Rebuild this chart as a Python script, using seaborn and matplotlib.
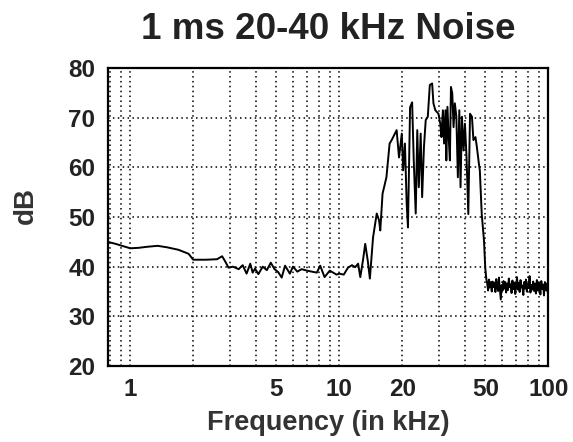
import numpy as np
import pandas as pd
import matplotlib
matplotlib.use("Agg")
import matplotlib.pyplot as plt
import seaborn as sns
from matplotlib.ticker import FixedLocator, NullFormatter

# ---- data ----
freq_low = [0.78, 0.85, 0.95, 1.0, 1.1, 1.2, 1.35, 1.5, 1.7, 1.9, 2.0, 2.3, 2.6, 2.75,
            2.85, 2.95, 3.1, 3.3, 3.45, 3.6, 3.75, 3.85, 3.95, 4.1, 4.3, 4.5, 4.7, 4.9,
            5.1, 5.3, 5.5, 5.8, 6.0, 6.3, 6.6, 7.0, 7.4, 7.8, 8.1, 8.5, 9.0, 9.7]
db_low = [45.0, 44.6, 44.0, 43.7, 43.8, 44.0, 44.2, 43.9, 43.4, 42.6, 41.4, 41.4, 41.5, 42.1,
          41.0, 39.8, 40.0, 39.5, 40.3, 38.6, 40.6, 38.8, 39.6, 38.5, 40.0, 39.3, 40.8, 39.5,
          38.9, 37.8, 40.2, 38.6, 40.0, 39.0, 39.5, 39.2, 39.0, 38.8, 40.2, 37.9, 39.2, 38.4]

freq_mid = [10.0, 10.5, 11.0, 11.5, 11.9, 12.3, 12.6, 13.0, 13.3, 13.7, 14.0, 14.5,
            15.1, 15.5, 15.7, 16.1, 16.8, 17.4, 17.8, 18.8, 19.3, 19.9, 20.2, 20.6,
            21.0, 21.3, 21.8, 22.3, 22.7, 23.2, 23.6, 24.0, 24.5, 24.9, 25.4, 25.9,
            26.5, 27.1, 27.8, 28.2, 28.8, 29.8, 30.4, 30.8, 31.3, 31.7, 32.2, 32.5,
            32.9, 33.4, 33.8, 34.2, 34.7, 35.2, 35.7, 36.3, 36.9, 37.5, 38.0, 38.6,
            39.3, 39.9, 40.6, 41.4, 42.2, 43.1, 43.8, 44.8, 45.5, 46.5, 47.0, 48.0,
            49.2, 49.9, 50.5]
db_mid = [38.6, 38.4, 39.8, 40.3, 39.9, 40.6, 37.9, 41.5, 44.6, 41.0, 37.6, 45.9,
          50.7, 49.3, 47.3, 54.7, 58.0, 64.8, 65.5, 67.5, 62.0, 66.8, 59.4, 64.8,
          52.7, 47.9, 72.1, 73.1, 61.4, 50.7, 67.5, 56.0, 66.8, 54.0, 64.1, 69.5,
          70.2, 76.6, 76.9, 72.9, 71.5, 70.8, 68.8, 66.1, 71.5, 64.8, 71.5, 61.4,
          72.2, 65.5, 61.4, 76.2, 74.9, 68.1, 72.9, 70.2, 58.0, 71.5, 56.0, 70.2,
          63.4, 68.8, 62.1, 50.6, 70.8, 70.2, 65.5, 66.1, 64.1, 60.8, 59.4, 50.6,
          45.3, 39.8, 37.5]

freq_high = [51.0, 51.5, 52.0, 52.5, 53.1, 53.6, 54.1, 54.7, 55.2, 55.8,
             56.3, 56.9, 57.5, 58.0, 58.6, 59.2, 59.8, 60.4, 61.0, 61.6,
             62.2, 62.8, 63.5, 64.1, 64.7, 65.4, 66.0, 66.7, 67.3, 68.0,
             68.7, 69.4, 70.1, 70.8, 71.5, 72.2, 72.9, 73.6, 74.4, 75.1,
             75.9, 76.6, 77.4, 78.1, 78.9, 79.7, 80.5, 81.3, 82.1, 83.0,
             83.8, 84.6, 85.5, 86.3, 87.2, 88.1, 88.9, 89.8, 90.7, 91.6,
             92.5, 93.5, 94.4, 95.3, 96.3, 97.3, 98.2, 99.2, 100.0]
db_high = [36.6, 35.2, 37.4, 35.8, 36.9, 35.0, 37.0, 35.9, 36.8, 34.9,
           37.5, 36.0, 35.1, 37.8, 35.7, 33.4, 36.3, 35.2, 37.1, 35.6,
           36.9, 34.8, 36.6, 35.3, 37.6, 35.9, 36.4, 34.7, 37.2, 35.5,
           36.8, 34.5, 36.1, 37.9, 35.4, 36.7, 34.9, 37.3, 35.8, 36.2,
           34.3, 36.9, 35.6, 37.4, 35.0, 36.5, 35.7, 38.1, 34.8, 36.3,
           35.4, 37.0, 35.1, 36.6, 34.6, 37.3, 35.2, 36.8, 35.9, 34.4,
           37.1, 35.5, 36.4, 34.2, 36.9, 35.3, 36.6, 34.9, 35.8]

x_ticks = [1, 5, 10, 20, 50, 100]
x_tick_labels = ["1", "5", "10", "20", "50", "100"]
y_ticks = [20, 30, 40, 50, 60, 70, 80]
x_grid = [0.8, 0.9, 1, 2, 3, 4, 5, 6, 7, 8, 9, 10, 20, 30, 40, 50, 60, 70, 80, 90, 100]

df = pd.DataFrame({"freq": freq_low + freq_mid + freq_high,
                   "db": db_low + db_mid + db_high})

sns.set_style("white")
plt.rcParams["font.family"] = ["Liberation Sans", "DejaVu Sans"]

fig = plt.figure(figsize=(5.73, 4.42), dpi=100)
ax = fig.add_axes([0.188, 0.172, 0.769, 0.674])

sns.lineplot(data=df, x="freq", y="db", ax=ax, color="black", linewidth=1.4,
             estimator=None, sort=False)

ax.set_xscale("log")
ax.set_xlim(0.78, 100)
ax.set_ylim(20, 80)

for g in x_grid:
    ax.axvline(g, color="black", linestyle=(0, (1, 2.2)), linewidth=1.1, zorder=0)
for g in y_ticks[1:-1]:
    ax.axhline(g, color="black", linestyle=(0, (1, 2.2)), linewidth=1.1, zorder=0)

ax.xaxis.set_major_locator(FixedLocator(x_ticks))
ax.xaxis.set_minor_locator(FixedLocator([]))
ax.xaxis.set_minor_formatter(NullFormatter())
ax.set_xticks(x_ticks)
ax.set_xticklabels(x_tick_labels)
ax.set_yticks(y_ticks)
ax.tick_params(axis="both", length=0, labelsize=17.5, pad=9)
for lab in ax.get_xticklabels() + ax.get_yticklabels():
    lab.set_fontweight("bold")
    lab.set_color("#222222")

for sp in ax.spines.values():
    sp.set_color("black")
    sp.set_linewidth(1.6)

ax.set_xlabel("Frequency (in kHz)", fontsize=19.5, fontweight="bold", color="#333333", labelpad=6)
ax.set_ylabel("dB", fontsize=20, fontweight="bold", color="#333333", labelpad=18)
ax.yaxis.set_label_coords(-0.157, 0.54)
ax.set_title("1 ms 20-40 kHz Noise", fontsize=26.5, fontweight="bold", color="#222222", pad=21)

fig.savefig("out.png", dpi=100)
